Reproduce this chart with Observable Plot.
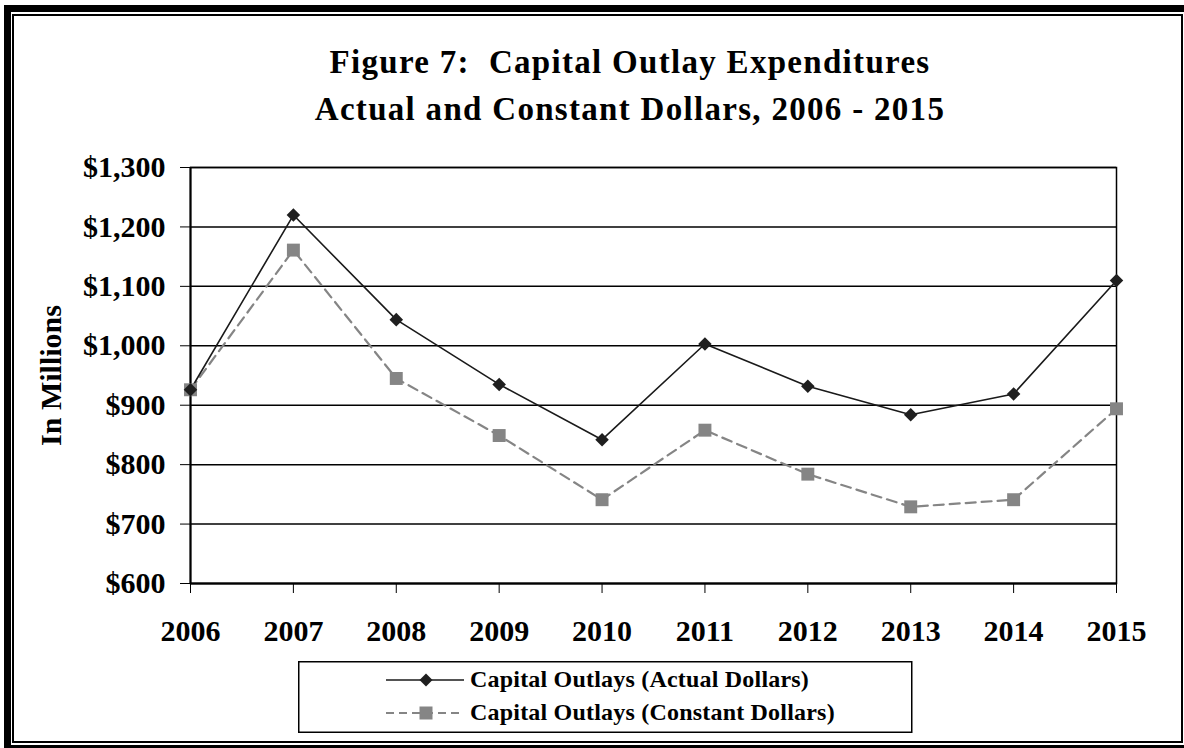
<!DOCTYPE html>
<html>
<head>
<meta charset="utf-8">
<script src="https://cdn.jsdelivr.net/npm/d3@7"></script>
<script src="https://cdn.jsdelivr.net/npm/@observablehq/plot@0.6"></script>
<style>
  html, body { margin: 0; padding: 0; background: #fff; overflow: hidden; }
  #wrap { position: relative; width: 1184px; height: 748px; overflow: hidden; background: #fff; }
  .outer { position: absolute; left: 4px; top: 5px; width: 1187px; height: 747px; border: 7px solid #000; box-sizing: border-box; }
  .inner { position: absolute; left: 12px; top: 14px; width: 1171px; height: 729px; border: 2px solid #000; box-sizing: border-box; }
  #chart { position: absolute; left: 0; top: 0; }
  #overlay { position: absolute; left: 0; top: 0; }
  #overlay text { white-space: pre; }
</style>
</head>
<body>
<div id="wrap">
  <div class="outer"></div>
  <div class="inner"></div>
  <div id="chart"></div>
  <svg id="overlay" width="1184" height="748"></svg>
</div>
<script>
// ---- data ----
const years = [2006, 2007, 2008, 2009, 2010, 2011, 2012, 2013, 2014, 2015];
const actualDollars = [926, 1220, 1044, 935, 842, 1003, 932, 884, 919, 1110];
const constantDollars = [926, 1161, 945, 849, 741, 858, 784, 729, 741, 894];
const yTicks = [600, 700, 800, 900, 1000, 1100, 1200, 1300];
const seriesNames = ["Capital Outlays (Actual Dollars)", "Capital Outlays (Constant Dollars)"];
const titleLines = ["Figure 7:  Capital Outlay Expenditures", "Actual and Constant Dollars, 2006 - 2015"];
const yLabel = "In Millions";

const FONT = '"Liberation Serif", "Times New Roman", serif';
const actualRows = years.map((year, i) => ({year, value: actualDollars[i]}));
const constantRows = years.map((year, i) => ({year, value: constantDollars[i]}));

const chart = Plot.plot({
  width: 1184,
  height: 748,
  marginLeft: 190,
  marginRight: 68,
  marginTop: 167,
  marginBottom: 165,
  style: {background: "transparent", fontFamily: FONT, fontSize: "30px", fontWeight: "bold", color: "#000", overflow: "visible"},
  x: {type: "linear", domain: [years[0], years[years.length - 1]], ticks: years, tickFormat: d => String(d), tickSize: 10, tickPadding: 26, label: null},
  y: {domain: [yTicks[0], yTicks[yTicks.length - 1]], ticks: yTicks, tickFormat: d => "$" + d3.format(",")(d), tickSize: 10, tickPadding: 15, label: null},
  marks: [
    Plot.ruleY(yTicks, {stroke: "#000", strokeWidth: 1.5}),
    Plot.frame({stroke: "#000", strokeWidth: 1.5}),
    Plot.ruleX([years[0]], {stroke: "#000", strokeWidth: 2}),
    Plot.ruleY([yTicks[0]], {stroke: "#000", strokeWidth: 2}),
    Plot.line(constantRows, {x: "year", y: "value", stroke: "#858585", strokeWidth: 2.2, strokeDasharray: "10,6"}),
    Plot.line(actualRows, {x: "year", y: "value", stroke: "#1a1a1a", strokeWidth: 1.6}),
    Plot.dot(constantRows, {x: "year", y: "value", symbol: "square", r: 7.3, fill: "#858585", stroke: "none"}),
    Plot.dot(actualRows, {x: "year", y: "value", symbol: "diamond2", r: 6.1, fill: "#1f1f1f", stroke: "none"}),
    Plot.text([yLabel], {text: d => d, frameAnchor: "left", textAnchor: "middle", rotate: -90, dx: -139, fontSize: 30, fontWeight: "bold", fill: "#000"})
  ]
});
document.getElementById("chart").appendChild(chart);

// ---- title and legend ----
const ov = d3.select("#overlay");
const title = ov.append("g").attr("font-family", FONT).attr("font-weight", "bold").attr("font-size", 33)
  .attr("text-anchor", "middle").attr("letter-spacing", 1.3);
title.selectAll("text").data(titleLines).join("text")
  .attr("xml:space", "preserve").style("white-space", "pre")
  .attr("x", 630).attr("y", (d, i) => 73 + i * 47).text(d => d);

const lg = ov.append("g").attr("transform", "translate(298,661)");
lg.append("rect").attr("x", 0.75).attr("y", 0.75).attr("width", 613).attr("height", 70.5)
  .attr("fill", "#fff").attr("stroke", "#000").attr("stroke-width", 1.5);
const rowY = [19, 52];
// actual sample
lg.append("line").attr("x1", 88).attr("x2", 166).attr("y1", rowY[0]).attr("y2", rowY[0]).attr("stroke", "#1a1a1a").attr("stroke-width", 1.6);
lg.append("path").attr("transform", `translate(128,${rowY[0]})`).attr("d", "M0,-6.5L6.5,0L0,6.5L-6.5,0Z").attr("fill", "#1f1f1f");
// constant sample
lg.append("line").attr("x1", 88).attr("x2", 166).attr("y1", rowY[1]).attr("y2", rowY[1]).attr("stroke", "#858585").attr("stroke-width", 2).attr("stroke-dasharray", "8,5");
lg.append("rect").attr("x", 128 - 6.5).attr("y", rowY[1] - 6.5).attr("width", 13).attr("height", 13).attr("fill", "#858585");
lg.selectAll("text.lab").data(seriesNames).join("text").attr("class", "lab")
  .attr("x", 172).attr("y", (d, i) => rowY[i] + 6.7)
  .attr("font-family", FONT).attr("font-weight", "bold").attr("font-size", 24).attr("letter-spacing", 0.2)
  .text(d => d);
</script>
</body>
</html>
